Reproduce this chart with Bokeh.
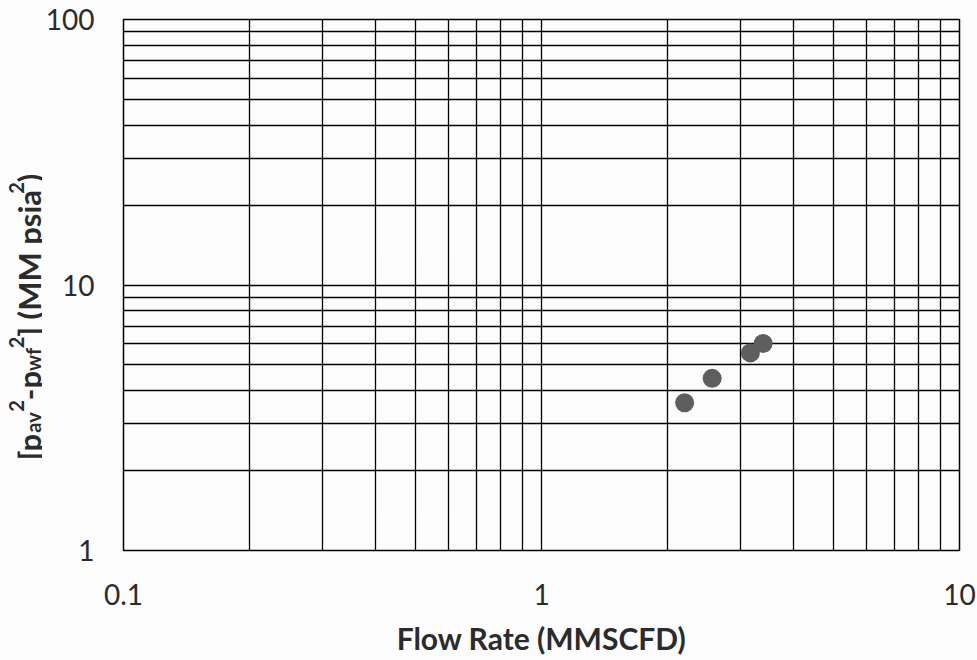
import math

from bokeh.plotting import figure
from bokeh.layouts import row
from bokeh.models import Range1d, FixedTicker, Label
from bokeh.embed import file_html
from bokeh.resources import INLINE

# ---------------- data ----------------
flow_rate = [2.20, 2.56, 3.16, 3.39]          # MMSCFD
dp2 = [3.60, 4.45, 5.55, 6.02]                # MM psia^2
x_ticks = [0.1, 1, 10]
x_tick_labels = ["0.1", "1", "10"]
y_ticks = [1, 10, 100]
y_tick_labels = ["1", "10", "100"]
x_minor = [m * d for d in (0.1, 1) for m in range(2, 10)]
y_minor = [m * d for d in (1, 10) for m in range(2, 10)]

x_title = "Flow Rate (MMSCFD)"
# y title pieces: (text, role)
y_title_pieces = [("[p", "main"), ("av", "sub"), ("2", "sup"), ("-p", "main"),
                  ("wf", "sub"), ("2", "sup"), ("] (MM psia", "main"),
                  ("2", "sup"), (")", "main")]

FONT = "Lato"
TXT = "#2b2b2b"
BG = "#fcfcfc"
H = 660
TOP, BOTTOM = 19, 110
LEFT_W = 42

# approximate Lato Bold advance widths (em) used to chain the title pieces
ADV = {"[": 0.31, "]": 0.31, "(": 0.31, ")": 0.31, "p": 0.58, "a": 0.52,
       "v": 0.53, "w": 0.80, "f": 0.34, "2": 0.58, "-": 0.36, " ": 0.193,
       "M": 0.90, "s": 0.44, "i": 0.26}

def text_w(s, size):
    return sum(ADV.get(c, 0.55) for c in s) * size

MAIN = 31
SMALL = 20

# ---------------- main figure ----------------
p = figure(x_axis_type="log", y_axis_type="log",
           x_range=Range1d(0.1, 10), y_range=Range1d(1, 100),
           frame_width=836, frame_height=H - TOP - BOTTOM,
           min_border_left=78, min_border_right=19,
           min_border_top=TOP, min_border_bottom=BOTTOM,
           output_backend="svg", toolbar_location=None)
p.background_fill_color = BG
p.border_fill_color = BG
p.outline_line_color = "black"
p.outline_line_width = 1.5

xt = FixedTicker(ticks=x_ticks, minor_ticks=x_minor)
yt = FixedTicker(ticks=y_ticks, minor_ticks=y_minor)
p.xaxis.ticker = xt
p.yaxis.ticker = yt
p.xgrid.ticker = xt
p.ygrid.ticker = yt
p.xaxis.major_label_overrides = dict(zip(x_ticks, x_tick_labels))
p.yaxis.major_label_overrides = dict(zip(y_ticks, y_tick_labels))

for g in (p.xgrid, p.ygrid):
    g.grid_line_color = "black"
    g.grid_line_width = 1.3
    g.minor_grid_line_color = "black"
    g.minor_grid_line_width = 1.3

for ax in (p.xaxis, p.yaxis):
    ax.axis_line_color = "black"
    ax.major_tick_line_color = None
    ax.minor_tick_line_color = None
    ax.major_tick_out = 0
    ax.major_tick_in = 0
    ax.minor_tick_out = 0
    ax.minor_tick_in = 0
    ax.major_label_text_font = FONT
    ax.major_label_text_font_size = "28px"
    ax.major_label_text_color = TXT

p.xaxis.major_label_standoff = 33
p.yaxis.major_label_standoff = 29
p.xaxis.axis_label = x_title
p.xaxis.axis_label_text_font = FONT
p.xaxis.axis_label_text_font_style = "bold"
p.xaxis.axis_label_text_font_size = "30px"
p.xaxis.axis_label_text_color = TXT
p.xaxis.axis_label_standoff = 12

p.scatter(flow_rate, dp2, size=19, color="#5e5e5e", line_color=None)

# ---------------- left strip holding the composed y-axis title ----------------
# its frame spans the same rows as the main frame; y data = pixels above the page bottom
t = figure(width=LEFT_W, height=H,
           x_range=Range1d(0, LEFT_W), y_range=Range1d(BOTTOM, H - TOP),
           x_axis_location=None, y_axis_location=None,
           min_border=0, min_border_left=0, min_border_right=0,
           min_border_top=TOP, min_border_bottom=BOTTOM,
           output_backend="svg", toolbar_location=None)
t.outline_line_color = None
t.background_fill_color = BG
t.border_fill_color = BG
t.xgrid.visible = False
t.ygrid.visible = False

widths = [text_w(s, MAIN if r == "main" else SMALL) for s, r in y_title_pieces]
total = sum(widths)
center = H - 316.0    # vertical centre of the title (pixels above the bottom)
base_x = 28.0         # baseline of the main-size text
ypos = center - total / 2.0
for (s, r), w in zip(y_title_pieces, widths):
    if r == "main":
        bx, fs = base_x, MAIN
    elif r == "sub":
        bx, fs = base_x + 0.16 * MAIN, SMALL
    else:
        bx, fs = base_x - 0.38 * MAIN, SMALL
    t.add_layout(Label(x=bx, y=ypos, text=s, angle=math.pi / 2,
                       text_align="left", text_baseline="alphabetic",
                       text_font=FONT, text_font_style="bold",
                       text_font_size=f"{fs}px", text_color=TXT))
    ypos += w

layout = row(t, p, spacing=0)
open("out.html", "w").write(file_html(layout, INLINE))
